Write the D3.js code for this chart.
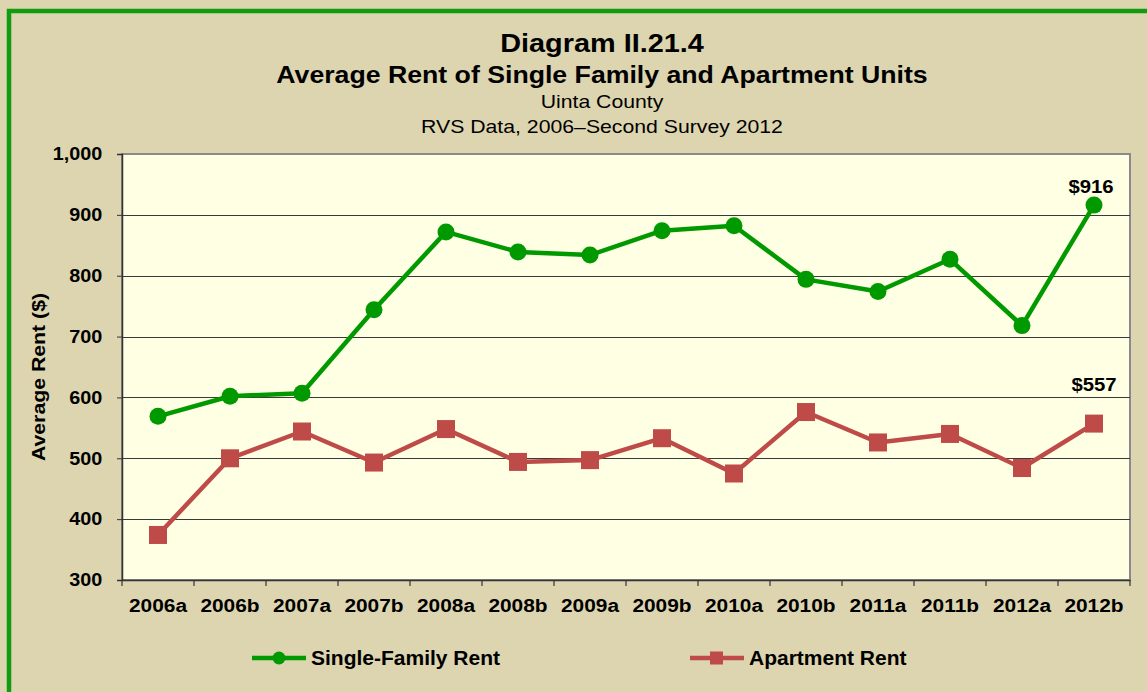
<!DOCTYPE html>
<html>
<head>
<meta charset="utf-8">
<script src="https://cdn.jsdelivr.net/npm/d3@7"></script>
<style>
  body { margin: 0; background: #ddd5af; }
  svg { display: block; font-family: Arial, "Liberation Sans", sans-serif; }
</style>
</head>
<body>
<div id="chart"></div>
<script>
// Chart data
const periods = ["2006a", "2006b", "2007a", "2007b", "2008a", "2008b", "2009a",
  "2009b", "2010a", "2010b", "2011a", "2011b", "2012a", "2012b"];
const singleFamily = [569, 602, 607, 744, 872, 839, 834, 874, 882, 794, 774, 827, 718, 916];
const apartment = [374, 500, 544, 493, 548, 494, 497, 533, 475, 576, 526, 540, 484, 557];
const yTicks = [300, 400, 500, 600, 700, 800, 900, 1000];

const w = 1147;
const h = 692;
const marginTop = 154;
const marginRight = 17;
const marginBottom = 112;
const marginLeft = 122;

const green = "#009900";
const red = "#be4b48";

const svg = d3.select("#chart")
  .append("svg")
  .attr("width", w)
  .attr("height", h)
  .attr("viewBox", [0, 0, w, h]);

// background + green frame
svg.append("rect")
  .attr("x", 0).attr("y", 0).attr("width", w).attr("height", h)
  .attr("fill", "#ddd5af");
svg.append("rect")
  .attr("x", 9).attr("y", 11).attr("width", w + 20).attr("height", h + 20)
  .attr("fill", "none").attr("stroke", "#109b10").attr("stroke-width", 4.5);

const x = d3.scaleBand(periods, [marginLeft, w - marginRight]);
const y = d3.scaleLinear([300, 1000], [h - marginBottom, marginTop]);

// plot area
svg.append("rect")
  .attr("x", marginLeft).attr("y", marginTop)
  .attr("width", w - marginRight - marginLeft)
  .attr("height", h - marginBottom - marginTop)
  .attr("fill", "#ffffe3")
  .attr("stroke", "#8a8a8a")
  .attr("stroke-width", 2);

// gridlines
svg.append("g")
  .selectAll("line")
  .data(yTicks.filter(d => d > 300 && d < 1000))
  .join("line")
  .attr("x1", marginLeft).attr("x2", w - marginRight)
  .attr("y1", d => Math.round(y(d)) + 0.5).attr("y2", d => Math.round(y(d)) + 0.5)
  .attr("stroke", "#3a3a3a")
  .attr("stroke-width", 1.2);

// y axis
svg.append("g")
  .attr("transform", `translate(${marginLeft},0)`)
  .call(d3.axisLeft(y).tickValues(yTicks).tickSize(5).tickPadding(13).tickFormat(d3.format(",")))
  .call(g => g.select(".domain").attr("stroke", "#333").attr("stroke-width", 1.5))
  .call(g => g.selectAll(".tick line").attr("stroke", "#333"))
  .call(g => g.selectAll(".tick text")
    .attr("font-size", 18).attr("font-weight", "bold").attr("fill", "#000")
    .attr("transform", "scale(1.1,1)")
    .attr("font-family", "Arial, 'Liberation Sans', sans-serif"));

// x axis
svg.append("g")
  .attr("transform", `translate(0,${h - marginBottom})`)
  .call(d3.axisBottom(x).tickSize(0).tickPadding(19))
  .call(g => g.select(".domain").attr("stroke", "#333").attr("stroke-width", 1.5))
  .call(g => g.selectAll(".tick text")
    .attr("font-size", 18).attr("font-weight", "bold").attr("fill", "#000")
    .attr("transform", "scale(1.16,1)")
    .attr("font-family", "Arial, 'Liberation Sans', sans-serif"));

// category boundary ticks
svg.append("g")
  .selectAll("line")
  .data(periods.concat(["end"]))
  .join("line")
  .attr("x1", (d, i) => marginLeft + i * x.step())
  .attr("x2", (d, i) => marginLeft + i * x.step())
  .attr("y1", h - marginBottom)
  .attr("y2", h - marginBottom + 6)
  .attr("stroke", "#333")
  .attr("stroke-width", 1.2);

// y axis label
svg.append("text")
  .attr("transform", `translate(45,377) rotate(-90) scale(1.12,1)`)
  .attr("text-anchor", "middle")
  .attr("font-size", 19)
  .attr("font-weight", "bold")
  .text("Average Rent ($)");

const cx = i => x(periods[i]) + x.bandwidth() / 2;

const line = d3.line()
  .x((d, i) => cx(i))
  .y(d => y(d));

// single family
svg.append("path")
  .attr("d", line(singleFamily))
  .attr("fill", "none")
  .attr("stroke", green)
  .attr("stroke-width", 4.5)
  .attr("stroke-linejoin", "round");
svg.append("g")
  .selectAll("circle")
  .data(singleFamily)
  .join("circle")
  .attr("cx", (d, i) => cx(i))
  .attr("cy", d => y(d))
  .attr("r", 8.5)
  .attr("fill", green);

// apartment
svg.append("path")
  .attr("d", line(apartment))
  .attr("fill", "none")
  .attr("stroke", red)
  .attr("stroke-width", 4.5)
  .attr("stroke-linejoin", "round");
svg.append("g")
  .selectAll("rect")
  .data(apartment)
  .join("rect")
  .attr("x", (d, i) => cx(i) - 9)
  .attr("y", d => y(d) - 9)
  .attr("width", 18)
  .attr("height", 18)
  .attr("fill", red);

// end labels
const last = periods.length - 1;
svg.append("text")
  .attr("transform", `translate(${cx(last) - 3},${y(singleFamily[last]) - 12}) scale(1.07,1)`)
  .attr("text-anchor", "middle")
  .attr("font-size", 19).attr("font-weight", "bold")
  .text("$" + singleFamily[last]);
svg.append("text")
  .attr("transform", `translate(${cx(last)},${y(apartment[last]) - 33}) scale(1.07,1)`)
  .attr("text-anchor", "middle")
  .attr("font-size", 19).attr("font-weight", "bold")
  .text("$" + apartment[last]);

// titles
const titles = [
  { t: "Diagram II.21.4", y: 52, size: 26, weight: "bold", sx: 1.11 },
  { t: "Average Rent of Single Family and Apartment Units", y: 83, size: 23, weight: "bold", sx: 1.16 },
  { t: "Uinta County", y: 108, size: 18, weight: "normal", sx: 1.18 },
  { t: "RVS Data, 2006\u2013Second Survey 2012", y: 133, size: 18, weight: "normal", sx: 1.18 }
];
svg.append("g")
  .selectAll("text")
  .data(titles)
  .join("text")
  .attr("transform", d => `translate(602,${d.y}) scale(${d.sx},1)`)
  .attr("text-anchor", "middle")
  .attr("font-size", d => d.size)
  .attr("font-weight", d => d.weight)
  .text(d => d.t);

// legend
const legend = [
  { name: "Single-Family Rent", color: green, shape: "circle", x: 252 },
  { name: "Apartment Rent", color: red, shape: "square", x: 690 }
];
const lg = svg.append("g")
  .selectAll("g")
  .data(legend)
  .join("g")
  .attr("transform", d => `translate(${d.x},658)`);
lg.append("line")
  .attr("x1", 0).attr("x2", 54)
  .attr("stroke", d => d.color)
  .attr("stroke-width", 4.5);
lg.filter(d => d.shape === "circle").append("circle")
  .attr("cx", 27).attr("r", 6.5).attr("fill", d => d.color);
lg.filter(d => d.shape === "square").append("rect")
  .attr("x", 20).attr("y", -6.5).attr("width", 13).attr("height", 13)
  .attr("fill", d => d.color);
lg.append("text")
  .attr("x", 59).attr("y", 7)
  .attr("font-size", 21).attr("font-weight", "bold")
  .text(d => d.name);
</script>
</body>
</html>
